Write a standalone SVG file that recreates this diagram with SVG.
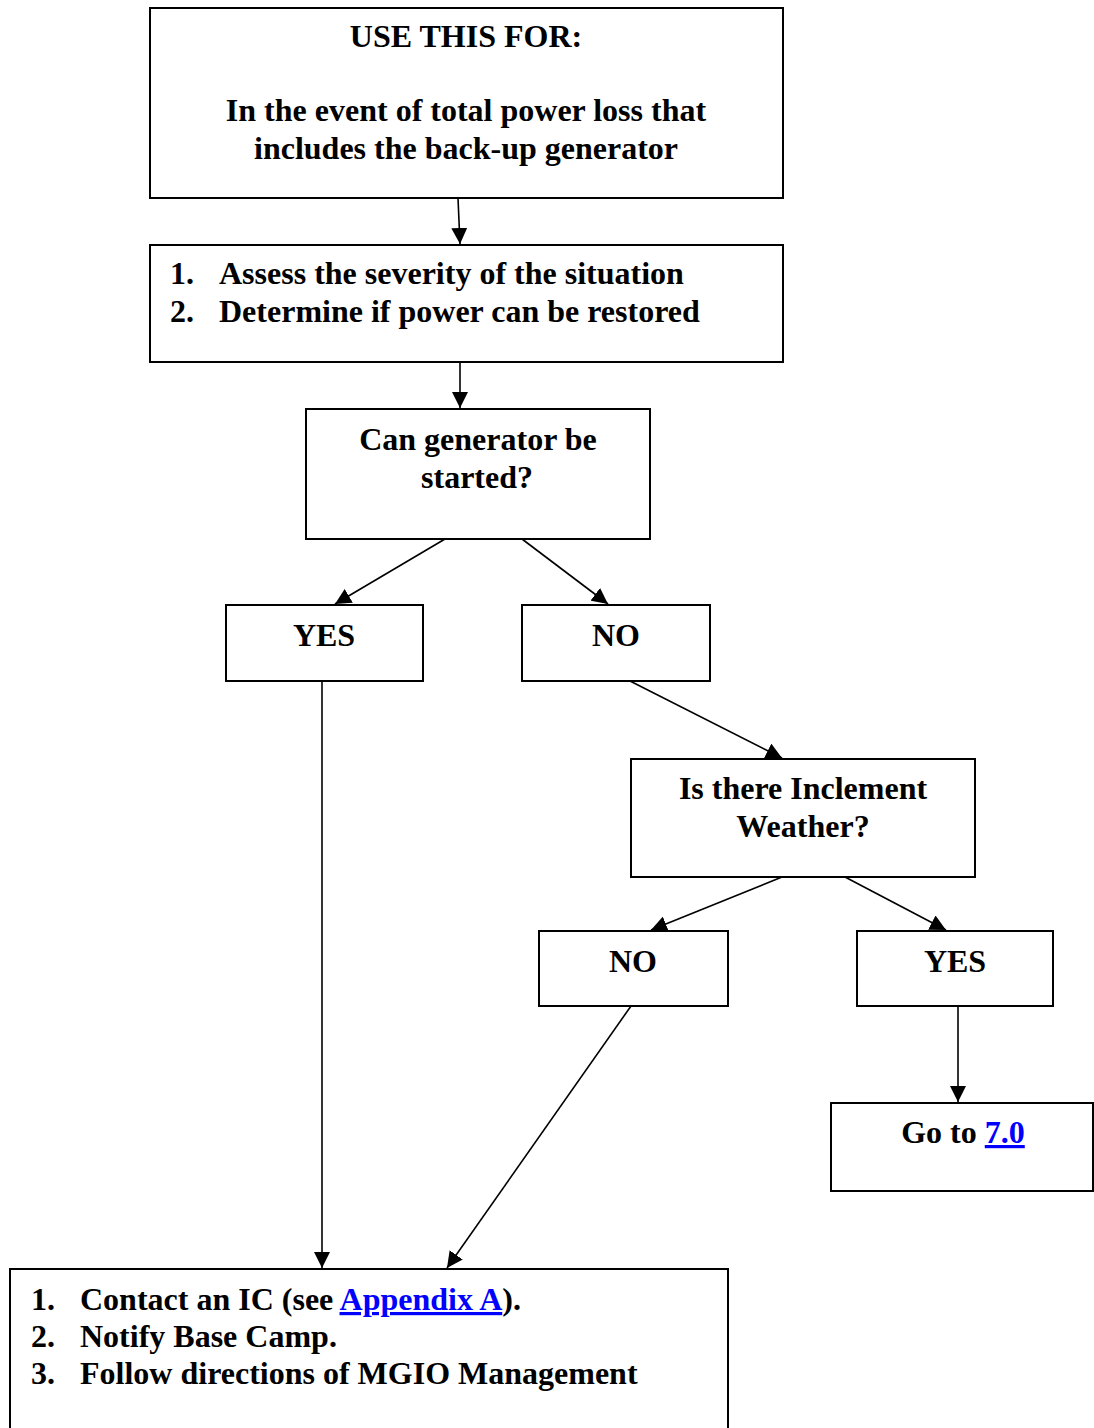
<svg xmlns="http://www.w3.org/2000/svg" width="1094" height="1428" viewBox="0 0 1094 1428">
<style>
  .box { fill: #ffffff; stroke: #000000; stroke-width: 2; }
  .t { font-family: "Liberation Serif", "Times New Roman", serif; font-weight: bold; font-size: 32px; fill: #000000; }
  .c { text-anchor: middle; }
  .link { fill: #0000ff; text-decoration: underline; }
  .conn { stroke: #000000; stroke-width: 1.6; fill: none; marker-end: url(#arr); }
</style>
<defs>
  <marker id="arr" markerUnits="userSpaceOnUse" markerWidth="16" markerHeight="16" viewBox="0 0 16 16" refX="16" refY="8" orient="auto">
    <path d="M0,0 L16,8 L0,16 Z" fill="#000000"/>
  </marker>
</defs>
<rect width="1094" height="1428" fill="#ffffff"/>

<g id="connectors">
  <line class="conn" x1="458" y1="198" x2="460" y2="244"/>
  <line class="conn" x1="460" y1="362" x2="460" y2="408"/>
  <line class="conn" x1="445" y1="539" x2="335" y2="604"/>
  <line class="conn" x1="522" y1="539" x2="608" y2="604"/>
  <line class="conn" x1="630" y1="681" x2="782" y2="758"/>
  <line class="conn" x1="782" y1="877" x2="651" y2="930"/>
  <line class="conn" x1="845" y1="877" x2="946" y2="930"/>
  <line class="conn" x1="958" y1="1006" x2="958" y2="1102"/>
  <line class="conn" x1="322" y1="681" x2="322" y2="1268"/>
  <line class="conn" x1="631" y1="1006" x2="447" y2="1268"/>
</g>

<g id="node-use-this-for">
  <rect class="box" x="150" y="8" width="633" height="190"/>
  <text class="t c" x="466" y="47">USE THIS FOR:</text>
  <text class="t c" x="466" y="121">In the event of total power loss that</text>
  <text class="t c" x="466" y="159">includes the back-up generator</text>
</g>

<g id="node-assess">
  <rect class="box" x="150" y="245" width="633" height="117"/>
  <text class="t" x="170" y="284">1.</text>
  <text class="t" x="219" y="284">Assess the severity of the situation</text>
  <text class="t" x="170" y="322">2.</text>
  <text class="t" x="219" y="322">Determine if power can be restored</text>
</g>

<g id="node-generator">
  <rect class="box" x="306" y="409" width="344" height="130"/>
  <text class="t c" x="478" y="450">Can generator be</text>
  <text class="t c" x="477" y="488">started?</text>
</g>

<g id="node-yes1">
  <rect class="box" x="226" y="605" width="197" height="76"/>
  <text class="t c" x="324" y="646">YES</text>
</g>

<g id="node-no1">
  <rect class="box" x="522" y="605" width="188" height="76"/>
  <text class="t c" x="616" y="646">NO</text>
</g>

<g id="node-weather">
  <rect class="box" x="631" y="759" width="344" height="118"/>
  <text class="t c" x="803" y="799">Is there Inclement</text>
  <text class="t c" x="803" y="837">Weather?</text>
</g>

<g id="node-no2">
  <rect class="box" x="539" y="931" width="189" height="75"/>
  <text class="t c" x="633" y="972">NO</text>
</g>

<g id="node-yes2">
  <rect class="box" x="857" y="931" width="196" height="75"/>
  <text class="t c" x="955" y="972">YES</text>
</g>

<g id="node-goto">
  <rect class="box" x="831" y="1103" width="262" height="88"/>
  <text class="t c" x="963" y="1143">Go to <tspan class="link">7.0</tspan></text>
</g>

<g id="node-contact">
  <rect class="box" x="10" y="1269" width="718" height="170"/>
  <text class="t" x="31" y="1310">1.</text>
  <text class="t" x="80" y="1310">Contact an IC (see <tspan class="link">Appendix A</tspan>).</text>
  <text class="t" x="31" y="1347">2.</text>
  <text class="t" x="80" y="1347">Notify Base Camp.</text>
  <text class="t" x="31" y="1384">3.</text>
  <text class="t" x="80" y="1384">Follow directions of MGIO Management</text>
</g>
</svg>
